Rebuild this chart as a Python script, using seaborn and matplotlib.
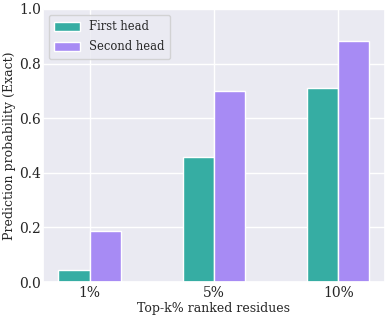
import matplotlib
matplotlib.use("Agg")
import matplotlib.pyplot as plt
import seaborn as sns
import pandas as pd

categories = ["1%", "5%", "10%"]
first_head = [0.044, 0.458, 0.709]
second_head = [0.188, 0.700, 0.883]
series_names = ["First head", "Second head"]
colors = ["#36ADA3", "#A78BF4"]

sns.set_theme(style="darkgrid")
plt.rcParams["font.family"] = ["DejaVu Serif"]

df = pd.DataFrame({
    "k": categories * 2,
    "p": first_head + second_head,
    "head": [series_names[0]] * 3 + [series_names[1]] * 3,
})

fig, ax = plt.subplots(figsize=(3.9, 3.17), dpi=100)
sns.barplot(data=df, x="k", y="p", hue="head", palette=colors, width=0.5,
            ax=ax, edgecolor="white", linewidth=1, saturation=1)
ax.set_xlim(-0.375, 2.375)
ax.set_ylim(0, 1.0)
ax.xaxis.grid(True)
ax.yaxis.grid(True)
ax.set_axisbelow(True)
ax.set_xlabel("Top-k% ranked residues", fontsize=9, labelpad=1)
ax.set_ylabel("Prediction probability (Exact)", fontsize=9, labelpad=2)
ax.tick_params(axis="both", length=0, labelsize=10)
ax.tick_params(axis="x", pad=3)
ax.tick_params(axis="y", pad=1.5)
ax.legend(title=None, loc="upper left", fontsize=8.3, handlelength=2.2,
          handleheight=0.9, labelspacing=0.6, borderpad=0.5)
fig.subplots_adjust(left=0.11, right=0.987, top=0.972, bottom=0.11)
fig.savefig("out.png", dpi=100)
